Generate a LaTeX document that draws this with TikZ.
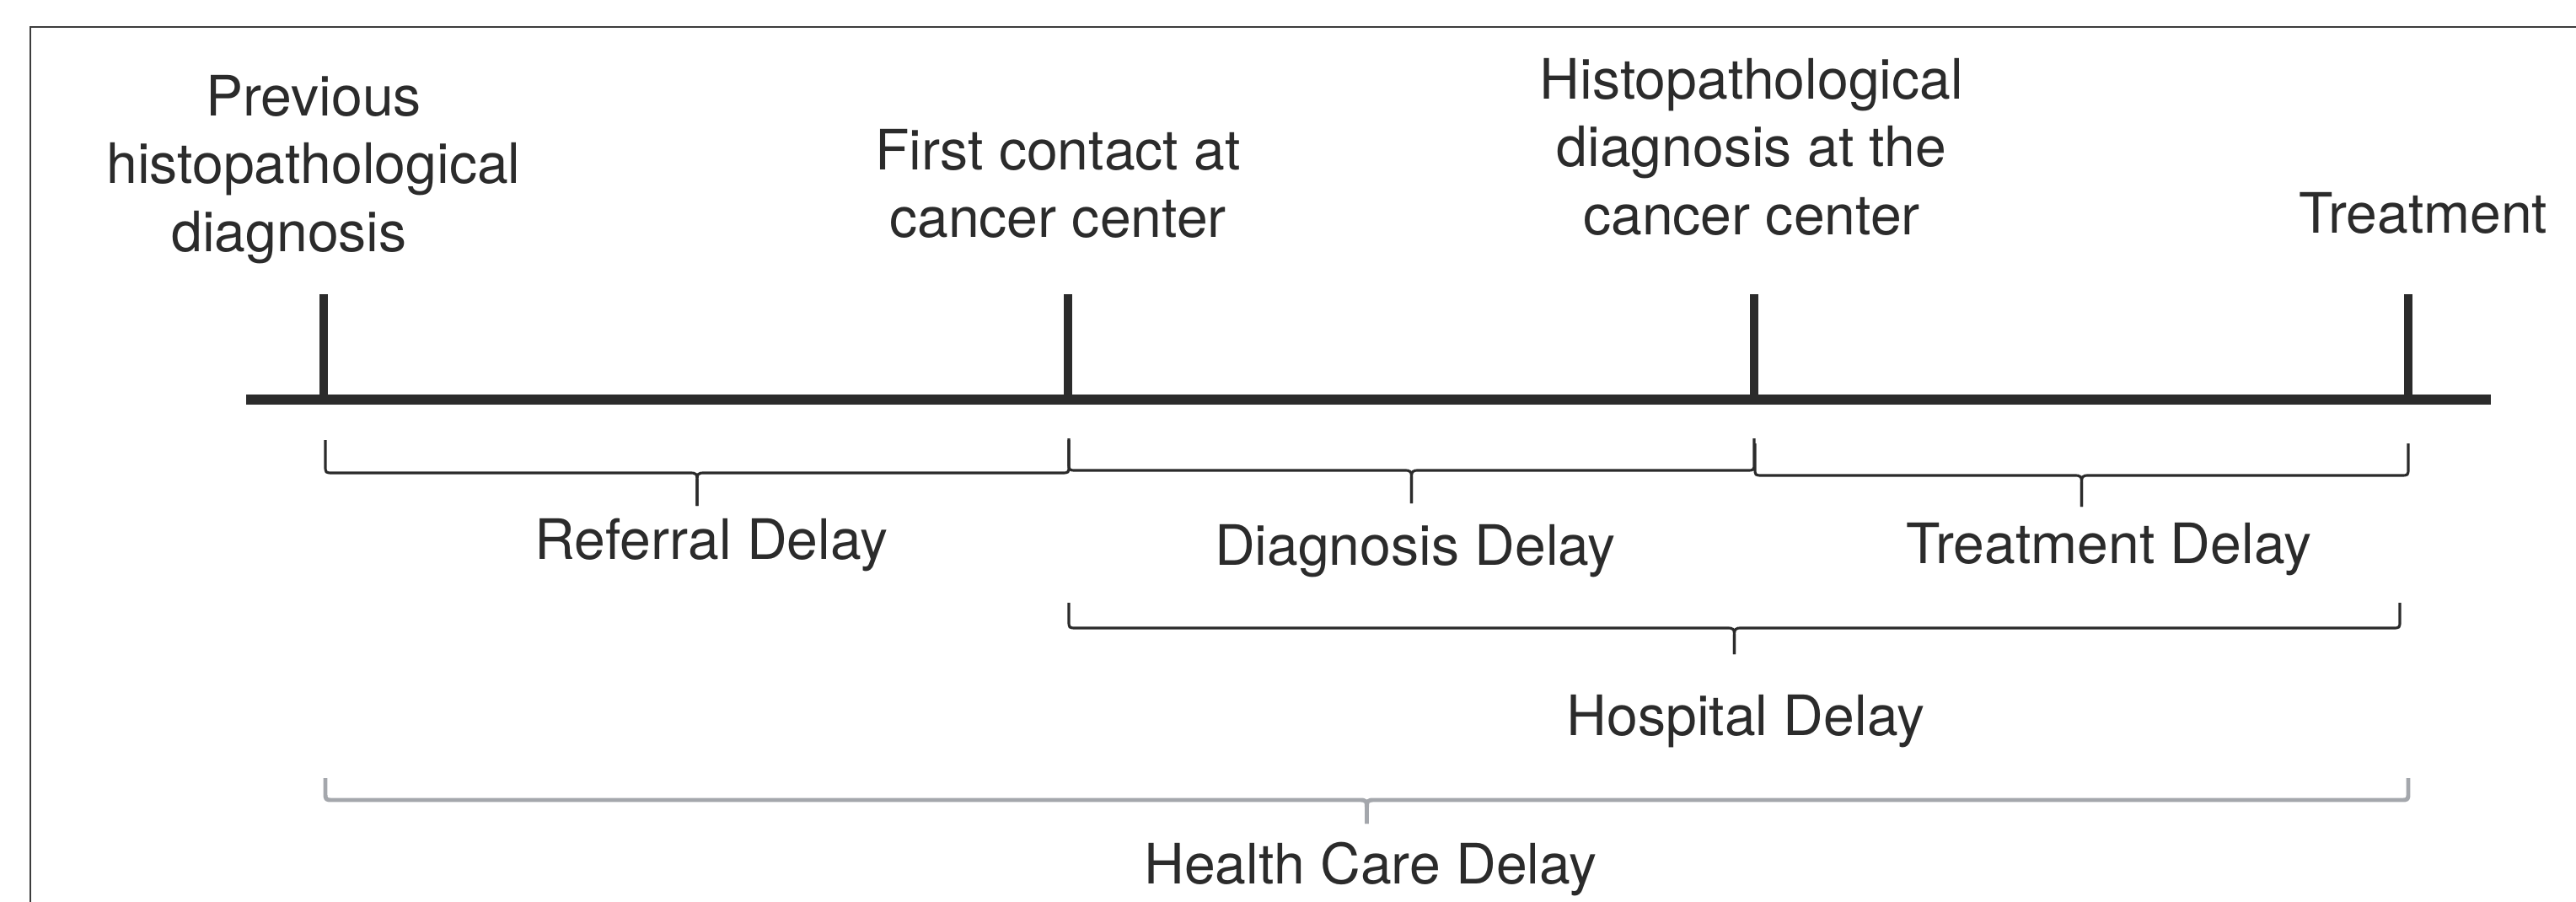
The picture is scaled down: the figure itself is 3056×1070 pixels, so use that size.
\documentclass[tikz,border=0pt]{standalone}
\usepackage{fontspec}
\setmainfont{TeX Gyre Heros}
\definecolor{ink}{HTML}{2B2B2B}
\definecolor{lightbrace}{HTML}{A4A7AC}
\definecolor{framecol}{HTML}{3C3C3C}
\tikzset{
  lbl/.style={font=\fontsize{18.8pt}{22.76pt}\selectfont, text=ink, inner sep=0pt, align=center, anchor=base},
  axisline/.style={draw=ink, line width=3.4pt},
  tickline/.style={draw=ink, line width=3.1pt},
  darkbrace/.style={draw=ink, line width=0.9pt, line join=round},
  greybrace/.style={draw=lightbrace, line width=1.4pt, line join=round},
}
% #1 style, #2 left x, #3 right x, #4 top of ends, #5 line y, #6 tip y
\newcommand\delaybrace[6]{%
  \pgfmathsetmacro\bxm{(#2+#3)/2}%
  \draw[#1] (#2,#4) -- (#2,#5-9) .. controls (#2,#5) .. (#2+9,#5) -- (\bxm-10,#5) .. controls (\bxm,#5) .. (\bxm,#5+13) -- (\bxm,#6);
  \draw[#1] (#3,#4) -- (#3,#5-9) .. controls (#3,#5) .. (#3-9,#5) -- (\bxm+10,#5) .. controls (\bxm,#5) .. (\bxm,#5+13) -- (\bxm,#6);
}
\begin{document}
\begin{tikzpicture}[x=0.01cm, y=-0.01cm]
\useasboundingbox (0,0) rectangle (3056,1070);
% frame (top and left edges)
\draw[framecol, line width=0.85pt] (36,1075) -- (36,32) -- (3060,32);

% time axis
\coordinate (a0) at (292,474);
\coordinate (a1) at (2955,474);
\coordinate (t1) at (384,474);
\coordinate (t2) at (1267,474);
\coordinate (t3) at (2081,474);
\coordinate (t4) at (2857,474);
\draw[axisline] (a0) -- (a1);
\foreach \t in {t1,t2,t3,t4} \draw[tickline] (\t) -- ++(0,-125);

% event labels (base anchor = baseline of last line)
\node[lbl] (prev)  at (372,298)  {Previous\\histopathological\\diagnosis\hspace*{0.58cm}};
\node[lbl] (first) at (1255,282) {First contact at\\cancer center};
\node[lbl] (histo) at (2078,278) {Histopathological\\diagnosis at the\\cancer center};
\node[lbl] (treat) at (2875,277) {Treatment};

% braces
\delaybrace{darkbrace}{386}{1268}{522}{561}{600}
\delaybrace{darkbrace}{1268}{2081}{520}{558}{597}
\delaybrace{darkbrace}{2082}{2857}{526}{564}{601}
\delaybrace{darkbrace}{1268}{2847}{715}{745}{776}
\delaybrace{greybrace}{386}{2857}{923}{949}{977}

% delay labels
\node[lbl] (refd)  at (844,663)  {Referral Delay};
\node[lbl] (diagd) at (1679,670) {Diagnosis Delay};
\node[lbl] (treatd) at (2502,668) {Treatment Delay};
\node[lbl] (hospd) at (2071,872) {Hospital Delay};
\node[lbl] (healthd) at (1626,1048) {Health Care Delay};
\end{tikzpicture}
\end{document}
